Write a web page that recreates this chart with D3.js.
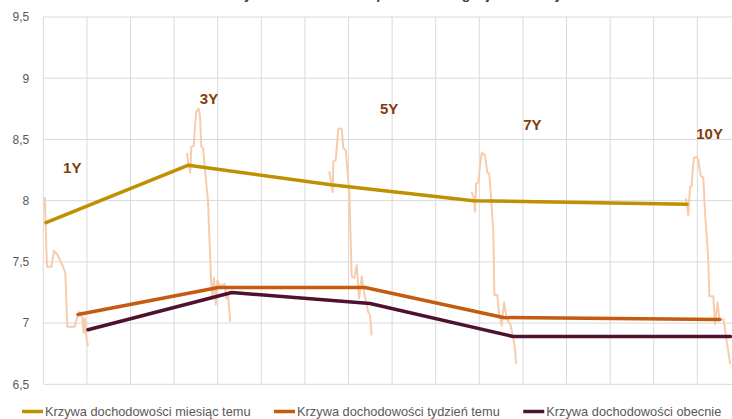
<!DOCTYPE html>
<html>
<head>
<meta charset="utf-8">
<script src="https://cdn.jsdelivr.net/npm/d3@7"></script>
<style>
  html, body { margin: 0; padding: 0; background: #fff; overflow: hidden; }
  svg { display: block; }
</style>
</head>
<body>
<svg id="chart" width="732" height="419"></svg>
<script>
// ---- data -------------------------------------------------------------
const chartTitle = "Krzywa dochodowości polskich obligacji skarbowych";
const seriesNames = [
  "Krzywa dochodowości miesiąc temu",
  "Krzywa dochodowości tydzień temu",
  "Krzywa dochodowości obecnie"
];
const yTicks = [6.5, 7, 7.5, 8, 8.5, 9, 9.5];

// tenor annotations (x in years, y in %)
const tenorLabels = ["1Y", "3Y", "5Y", "7Y", "10Y"];
const labelX = [1.24, 3.16, 5.69, 7.70, 10.13];
const labelY = [8.226, 8.789, 8.707, 8.577, 8.503];

// yield curves
const monthAgoX = [1, 3, 5, 7, 10];
const monthAgoY = [7.82, 8.29, 8.13, 8.00, 7.97];
const weekAgoX = [1.45, 3.42, 5.48, 7.42, 10.46];
const weekAgoY = [7.07, 7.29, 7.29, 7.045, 7.03];
const currentX = [1.59, 3.61, 5.55, 7.56, 10.61];
const currentY = [6.945, 7.25, 7.16, 6.89, 6.89];

// daily yield path for each tenor over the month
const trailX = [
  [0.982, 1.014, 1.074, 1.112, 1.159, 1.192, 1.239, 1.271, 1.299, 1.403, 1.439, 1.473, 1.510, 1.529, 1.543, 1.566, 1.590],
  [2.980, 2.994, 3.026, 3.040, 3.074, 3.096, 3.110, 3.144, 3.162, 3.181, 3.204, 3.275, 3.321, 3.335, 3.359, 3.383, 3.405, 3.439, 3.509, 3.532, 3.555, 3.588],
  [4.978, 5.026, 5.034, 5.068, 5.082, 5.104, 5.152, 5.174, 5.208, 5.259, 5.292, 5.329, 5.363, 5.395, 5.433, 5.479, 5.525, 5.549, 5.573],
  [6.977, 7.010, 7.024, 7.038, 7.070, 7.094, 7.118, 7.164, 7.196, 7.224, 7.258, 7.281, 7.295, 7.337, 7.361, 7.399, 7.431, 7.469, 7.515, 7.561, 7.590, 7.599],
  [9.986, 10.018, 10.042, 10.066, 10.080, 10.098, 10.136, 10.159, 10.193, 10.229, 10.253, 10.299, 10.313, 10.369, 10.393, 10.429, 10.457, 10.513, 10.561, 10.607]
];
const trailY = [
  [8.03, 7.46, 7.46, 7.59, 7.56, 7.52, 7.46, 7.41, 6.97, 6.97, 7.05, 7.09, 7.04, 6.92, 7.04, 6.89, 6.81],
  [8.39, 8.32, 8.23, 8.44, 8.45, 8.63, 8.73, 8.75, 8.685, 8.44, 8.43, 7.99, 7.30, 7.20, 7.37, 7.15, 7.35, 7.30, 7.32, 7.20, 7.23, 7.01],
  [8.24, 8.07, 8.32, 8.33, 8.43, 8.59, 8.585, 8.43, 8.41, 8.07, 7.38, 7.37, 7.475, 7.20, 7.38, 7.21, 7.09, 7.07, 6.90],
  [8.07, 8.02, 7.91, 8.14, 8.15, 8.29, 8.39, 8.37, 8.23, 8.22, 7.95, 7.73, 7.23, 7.23, 7.08, 6.98, 7.17, 7.03, 7.00, 6.88, 6.77, 6.665],
  [8.02, 7.88, 8.11, 8.12, 8.25, 8.35, 8.36, 8.33, 8.20, 8.19, 7.90, 7.52, 7.22, 7.22, 6.99, 7.17, 7.03, 7.03, 6.84, 6.665]
];

// ---- styling ----------------------------------------------------------
const curveColors = ["#BF9000", "#C55A11", "#4E1230"];
const trailColor = "#F8CBAD";
const labelColor = "#843C0C";
const gridColor = "#D9D9D9";
const textColor = "#595959";

const W = 732, H = 419;
const plotLeft = 43.3, plotTop = 17, plotBottom = 384.3, plotRight = 760;

const svg = d3.select("#chart");

// x: maturity in years; y: yield in %
const x = d3.scaleLinear().domain([1, 10]).range([46, 687]);
const y = d3.scaleLinear().domain([6.5, 9.5]).range([plotBottom, plotTop]);

// vertical grid every ~0.61 y from the left edge of the plot
const gridStart = x.invert(plotLeft);
const gridStep = 0.6122;
const xGrid = d3.range(0, 17).map(i => gridStart + i * gridStep);

const pl = d3.formatLocale({ decimal: ",", thousands: " ", grouping: [3], currency: ["", " zł"] });
const fmt = pl.format("~g");

// horizontal grid
svg.append("g")
  .selectAll("line").data(yTicks).join("line")
  .attr("x1", plotLeft).attr("x2", plotRight)
  .attr("y1", d => y(d)).attr("y2", d => y(d))
  .attr("stroke", gridColor).attr("stroke-width", 1);

// vertical grid
svg.append("g")
  .selectAll("line").data(xGrid).join("line")
  .attr("x1", d => x(d)).attr("x2", d => x(d))
  .attr("y1", plotTop).attr("y2", plotBottom)
  .attr("stroke", gridColor).attr("stroke-width", 1);

// y axis labels
const yAxis = d3.axisLeft(y).tickValues(yTicks).tickFormat(fmt).tickSize(0).tickPadding(14);
const ya = svg.append("g").attr("transform", `translate(${plotLeft},0)`).call(yAxis);
ya.select(".domain").remove();
ya.selectAll("text")
  .attr("fill", textColor)
  .style("font-family", "'Liberation Sans', Arial, sans-serif")
  .style("font-size", "12px");

// title (mostly above the top edge of the page)
svg.append("text")
  .attr("x", 400).attr("y", -1)
  .attr("text-anchor", "middle")
  .attr("fill", "#404040")
  .style("font-family", "'Liberation Sans', Arial, sans-serif")
  .style("font-size", "14px").style("font-weight", "bold")
  .text(chartTitle);

svg.append("clipPath").attr("id", "plotclip")
  .append("rect").attr("x", plotLeft).attr("y", plotTop - 5)
  .attr("width", plotRight - plotLeft).attr("height", plotBottom - plotTop + 10);

const plot = svg.append("g").attr("clip-path", "url(#plotclip)");
const line = d3.line().x(d => x(d[0])).y(d => y(d[1]));

// daily paths
trailX.forEach((xs, i) => {
  plot.append("path")
    .datum(xs.map((v, j) => [v, trailY[i][j]]))
    .attr("d", line)
    .attr("fill", "none")
    .attr("stroke", trailColor)
    .attr("stroke-width", 2)
    .attr("stroke-linejoin", "round");
});

// yield curves
const curves = [
  [monthAgoX, monthAgoY],
  [weekAgoX, weekAgoY],
  [currentX, currentY]
];
curves.forEach(([xs, ys], i) => {
  plot.append("path")
    .datum(xs.map((v, j) => [v, ys[j]]))
    .attr("d", line)
    .attr("fill", "none")
    .attr("stroke", curveColors[i])
    .attr("stroke-width", 3.5)
    .attr("stroke-linejoin", "round")
    .attr("stroke-linecap", "round");
});

// tenor labels
svg.append("g")
  .selectAll("text").data(tenorLabels).join("text")
  .attr("x", (d, i) => x(labelX[i]))
  .attr("y", (d, i) => y(labelY[i]))
  .attr("fill", labelColor)
  .style("font-family", "'Liberation Sans', Arial, sans-serif")
  .style("font-size", "15px").style("font-weight", "bold")
  .text(d => d);

// legend
const legend = svg.append("g");
let lx = 22;
const ly = 411.5;
seriesNames.forEach((name, i) => {
  const g = legend.append("g");
  g.append("line")
    .attr("x1", lx).attr("x2", lx + 21)
    .attr("y1", ly).attr("y2", ly)
    .attr("stroke", curveColors[i]).attr("stroke-width", 3.5);
  const t = g.append("text")
    .attr("x", lx + 23).attr("y", ly + 4.3)
    .attr("fill", textColor)
    .style("font-family", "'Liberation Sans', Arial, sans-serif")
    .style("font-size", "12.8px")
    .text(name);
  lx += 23 + t.node().getComputedTextLength() + 23.5;
});
</script>
</body>
</html>
